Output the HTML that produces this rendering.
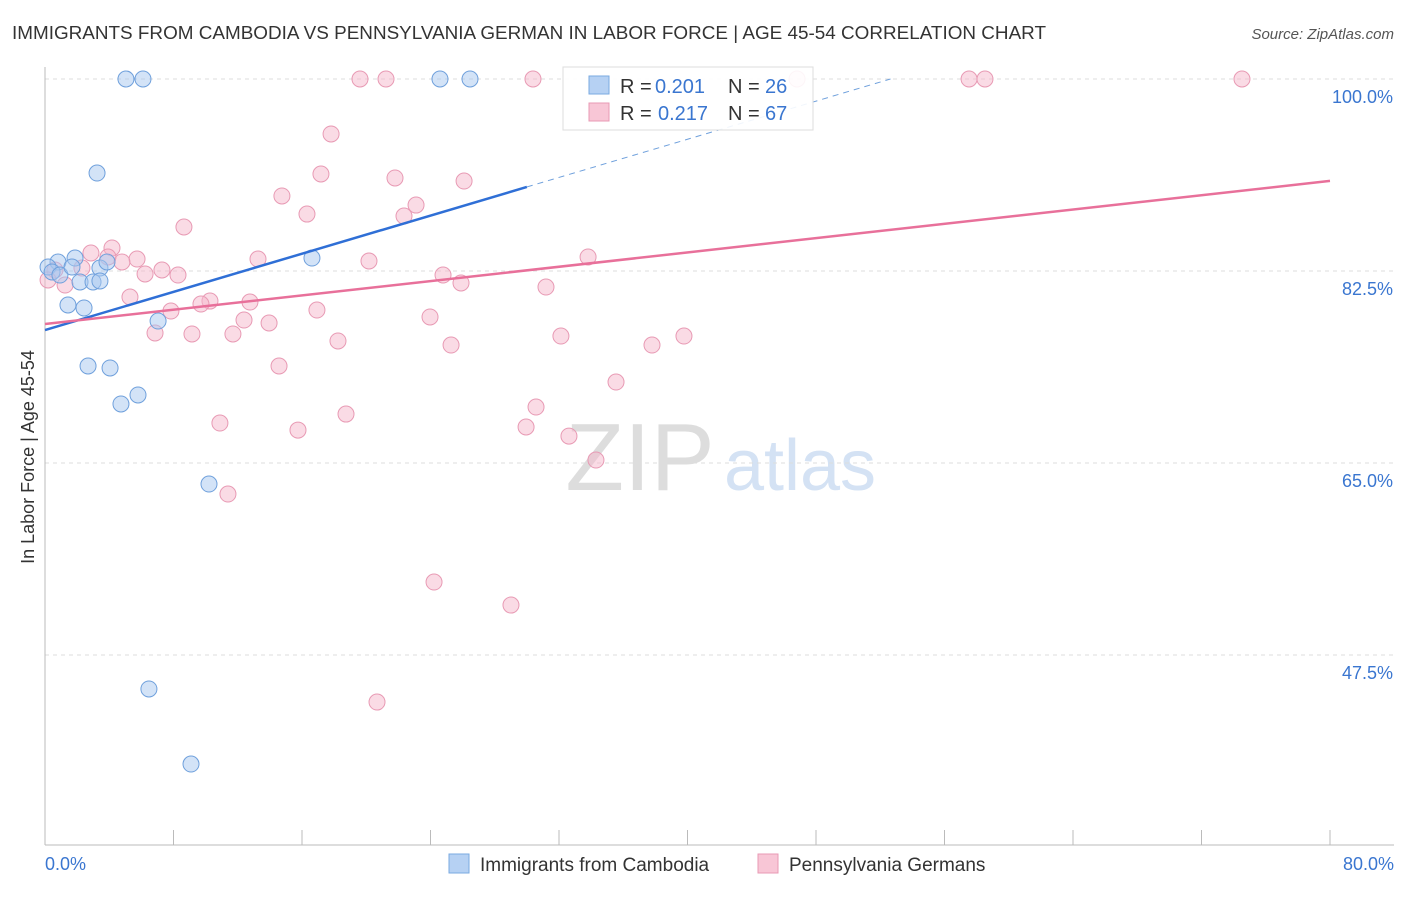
<!DOCTYPE html>
<html><head><meta charset="utf-8"><style>
body{margin:0;background:#fff;font-family:"Liberation Sans",sans-serif;}
svg text{font-family:"Liberation Sans",sans-serif;}
</style></head><body>
<svg id="c" width="1406" height="892">
<text x="12" y="39" font-size="18" fill="#333" textLength="1034" lengthAdjust="spacingAndGlyphs">IMMIGRANTS FROM CAMBODIA VS PENNSYLVANIA GERMAN IN LABOR FORCE | AGE 45-54 CORRELATION CHART</text>
<text x="1394" y="39" font-size="15" fill="#555" font-style="italic" text-anchor="end">Source: ZipAtlas.com</text>
<text x="640" y="490" font-size="96" fill="#ddd" font-family="Liberation Serif" text-anchor="middle">ZIP</text>
<text x="800" y="490" font-size="72" fill="#d4e2f4" text-anchor="middle">atlas</text>
<text transform="translate(34,457) rotate(-90)" font-size="18" fill="#333" text-anchor="middle">In Labor Force | Age 45-54</text>
<g id="grid"></g><g id="marks"></g>
<g>
<rect x="563" y="67" width="250" height="63" fill="#fff" fill-opacity="0.9" stroke="#ddd"/>
<rect x="589" y="76" width="20" height="18" fill="#b6d1f3" stroke="#7aaae0"/>
<rect x="589" y="103" width="20" height="18" fill="#f8c6d6" stroke="#e89ab4"/>
<text x="620" y="93" font-size="20" fill="#333">R =</text>
<text x="655" y="93" font-size="20" fill="#3a76d0">0.201</text>
<text x="728" y="93" font-size="20" fill="#333">N =</text>
<text x="765" y="93" font-size="20" fill="#3a76d0">26</text>
<text x="620" y="120" font-size="20" fill="#333">R =</text>
<text x="658" y="120" font-size="20" fill="#3a76d0">0.217</text>
<text x="728" y="120" font-size="20" fill="#333">N =</text>
<text x="765" y="120" font-size="20" fill="#3a76d0">67</text>
</g>
<g>
<rect x="449" y="854" width="20" height="19" fill="#b6d1f3" stroke="#7aaae0"/>
<text x="480" y="871" font-size="19" fill="#333">Immigrants from Cambodia</text>
<rect x="758" y="854" width="20" height="19" fill="#f8c6d6" stroke="#e89ab4"/>
<text x="789" y="871" font-size="19" fill="#333">Pennsylvania Germans</text>
</g>
</svg>
<script>
const yTicks=[100,82.5,65,47.5];
const xTickLabels=["0.0%","80.0%"];
const blueX=[5.04,6.10,24.59,26.46,3.24,1.87,0.81,0.19,0.44,0.93,3.42,1.68,2.18,2.99,3.42,3.86,1.43,2.43,7.04,16.62,2.68,4.05,5.79,4.73,10.21,6.47,9.09];
const blueY=[100,100,100,100,91.43,83.68,83.32,82.86,82.41,82.13,82.77,82.86,81.50,81.50,81.59,83.32,79.40,79.13,77.94,83.68,73.84,73.66,71.20,70.38,63.08,44.40,37.56];
const pinkX=[19.61,21.23,30.38,46.82,57.53,58.52,74.52,17.81,17.18,14.75,21.79,26.09,16.31,23.10,22.35,8.65,2.86,4.17,5.73,4.79,3.92,13.26,20.17,33.81,2.30,7.28,8.28,6.23,24.78,25.90,0.62,1.25,5.29,31.19,10.27,9.71,12.76,7.84,16.93,12.39,13.95,23.97,6.85,9.15,11.70,18.24,25.28,32.12,37.79,39.78,14.57,35.55,30.57,18.74,10.89,29.95,15.75,32.62,34.30,11.39,24.22,29.01,20.67,0.19];
const pinkY=[100,100,100,100,100,100,100,94.99,91.34,89.34,90.98,90.70,87.69,88.51,87.51,86.51,84.14,84.60,83.59,83.32,83.78,83.59,83.41,83.78,82.77,82.59,82.13,82.23,82.13,81.41,82.59,81.22,80.13,81.04,79.76,79.49,79.67,78.85,78.94,78.03,77.76,78.31,76.85,76.76,76.76,76.12,75.75,76.57,75.75,76.57,73.84,72.38,70.10,69.46,68.64,68.28,68.00,67.45,65.27,62.17,54.15,52.05,43.21,81.68];
const blueTrend=[77.12,90.16];
const pinkTrend=[77.67,90.71];
const X=v=>45+v*16.0625, Y=v=>79+(100-v)*10.971;
const NS="http://www.w3.org/2000/svg";
function mk(p,t,a){const e=document.createElementNS(NS,t);for(const k in a)e.setAttribute(k,a[k]);p.appendChild(e);return e;}
const g=document.getElementById('grid'),m=document.getElementById('marks');
yTicks.forEach(v=>{
 const l=mk(g,'line',{x1:45,x2:1394,y1:Y(v),y2:Y(v),stroke:'#ddd','stroke-dasharray':'4,4'});
 
 
 const t=mk(g,'text',{x:1393,y:Y(v)+24,'font-size':18,fill:'#3a76d0','text-anchor':'end'});t.textContent=v.toFixed(1)+'%';
 
 
});
const ax=mk(g,'line',{x1:45,x2:1394,y1:845,y2:845,stroke:'#bbb'});


const ay=mk(g,'line',{x1:45,x2:45,y1:67,y2:845,stroke:'#bbb'});


for(let i=0;i<=10;i++){const tk=mk(g,'line',{x1:X(i*8),x2:X(i*8),y1:830,y2:845,stroke:'#bbb'});
 
 }
[[0,'start',45],[80,'end',1394]].forEach((d,i)=>{const t=mk(g,'text',{x:d[2],y:870,'font-size':18,fill:'#3a76d0','text-anchor':d[1]});t.textContent=xTickLabels[i];
 
 });
function pts(xs,ys,fill,stroke,name){xs.forEach((x,i)=>{const c=mk(m,'circle',{cx:X(x),cy:Y(ys[i]),r:8,fill:fill,'fill-opacity':0.5,stroke:stroke,'stroke-width':1});
 
 });}
pts(pinkX,pinkY,'#f5b8cc','#e89ab4','pink-point');
pts(blueX,blueY,'#a8c8f0','#6fa0dc','blue-point');
const s=(blueTrend[1]-blueTrend[0])/30;
const bl=mk(m,'line',{x1:X(0),y1:Y(blueTrend[0]),x2:X(30),y2:Y(blueTrend[1]),stroke:'#2f6fd6','stroke-width':2.5});


const xe=(100-blueTrend[0])/s;
const bd=mk(m,'line',{x1:X(30),y1:Y(blueTrend[1]),x2:X(xe),y2:Y(100),stroke:'#6fa0dc','stroke-width':1,'stroke-dasharray':'6,5'});


const pl=mk(m,'line',{x1:X(0),y1:Y(pinkTrend[0]),x2:X(80),y2:Y(pinkTrend[1]),stroke:'#e8709a','stroke-width':2.5});


</script>
</body></html>
